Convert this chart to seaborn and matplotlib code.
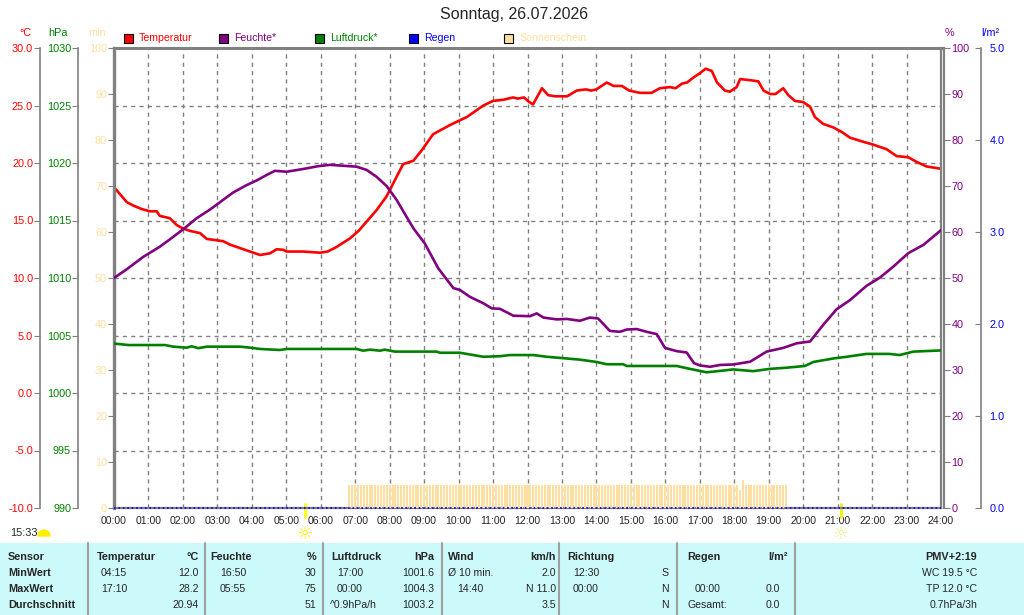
import numpy as np
import matplotlib
matplotlib.use("Agg")
import matplotlib.pyplot as plt
from matplotlib.patches import Rectangle, Wedge
from matplotlib.transforms import IdentityTransform, blended_transform_factory
import seaborn as sns

# ---- data (hours since midnight) ----
temp_hours = [0.0, 0.37, 0.56, 0.8, 1.04, 1.24, 1.33, 1.62, 1.82, 2.01, 2.2, 2.5, 2.69,
              3.17, 3.37, 3.85, 4.24, 4.53, 4.72, 4.91, 5.01, 5.49, 5.98, 6.2, 6.46,
              6.85, 7.1, 7.33, 7.62, 7.91, 8.15, 8.39, 8.69, 8.93, 9.26, 9.75, 10.24,
              10.72, 11.0, 11.3, 11.58, 11.72, 11.9, 12.05, 12.16, 12.42, 12.6, 12.8,
              13.15, 13.43, 13.7, 13.85, 14.0, 14.3, 14.5, 14.74, 14.95, 15.26, 15.6,
              15.84, 16.13, 16.3, 16.48, 16.63, 16.8, 17.0, 17.17, 17.35, 17.5, 17.73,
              17.87, 18.07, 18.17, 18.46, 18.7, 18.85, 19.04, 19.2, 19.42, 19.57, 19.76,
              20.0, 20.2, 20.34, 20.58, 20.87, 21.12, 21.36, 21.74, 22.03, 22.42, 22.71,
              23.05, 23.29, 23.58, 24.0]
temp_values = [17.9, 16.6, 16.3, 16.0, 15.8, 15.8, 15.4, 15.2, 14.6, 14.3, 14.1, 13.9, 13.4,
               13.2, 12.9, 12.4, 12.0, 12.15, 12.5, 12.45, 12.3, 12.3, 12.2, 12.3, 12.7,
               13.45, 14.1, 14.9, 15.9, 17.1, 18.5, 19.9, 20.2, 21.1, 22.5, 23.3, 24.0,
               25.0, 25.4, 25.5, 25.7, 25.6, 25.7, 25.3, 25.1, 26.5, 25.9, 25.8,
               25.8, 26.3, 26.4, 26.3, 26.4, 27.0, 26.7, 26.7, 26.3, 26.1, 26.1,
               26.5, 26.6, 26.5, 26.9, 27.0, 27.4, 27.8, 28.2, 28.0, 27.0, 26.3,
               26.2, 26.6, 27.3, 27.2, 27.1, 26.3, 26.0, 26.0, 26.5, 25.9, 25.4,
               25.3, 24.9, 24.0, 23.4, 23.1, 22.7, 22.2, 21.85, 21.6, 21.2, 20.6,
               20.5, 20.1, 19.7, 19.5]

hum_hours = [0.0, 0.37, 0.85, 1.33, 1.62, 2.01, 2.4, 2.79, 3.17, 3.46, 3.85, 4.14, 4.43,
             4.67, 5.01, 5.49, 5.92, 6.27, 7.04, 7.33, 7.62, 7.91, 8.2, 8.49, 8.69, 9.02,
             9.41, 9.85, 10.04, 10.33, 10.72, 10.96, 11.2, 11.59, 12.07, 12.27, 12.46,
             12.85, 13.14, 13.52, 13.81, 14.05, 14.39, 14.68, 14.88, 15.17, 15.46, 15.75,
             15.99, 16.33, 16.62, 16.83, 17.0, 17.3, 17.59, 17.97, 18.46, 18.94, 19.42,
             19.81, 20.2, 20.58, 20.97, 21.36, 21.84, 22.23, 22.62, 23.05, 23.49, 24.0]
hum_values = [50.0, 51.9, 54.6, 56.8, 58.4, 60.6, 63.0, 64.9, 67.0, 68.6, 70.2, 71.2, 72.4,
              73.3, 73.1, 73.7, 74.3, 74.6, 74.2, 73.5, 72.0, 70.0, 67.0, 63.3, 60.8, 57.5,
              52.1, 47.8, 47.4, 45.9, 44.5, 43.4, 43.3, 41.8, 41.7, 42.3, 41.4,
              41.0, 41.1, 40.7, 41.4, 41.2, 38.5, 38.3, 38.8, 38.9, 38.3, 37.8,
              34.8, 34.1, 33.8, 31.5, 31.0, 30.7, 31.1, 31.2, 31.8, 34.0, 34.8,
              35.8, 36.2, 39.8, 43.2, 45.2, 48.3, 50.1, 52.5, 55.4, 57.2, 60.4]

press_hours = [0.0, 0.42, 1.48, 1.72, 2.11, 2.25, 2.45, 2.69, 3.66, 3.95, 4.24, 4.82, 5.01,
               7.04, 7.23, 7.43, 7.72, 7.86, 8.15, 9.36, 9.46, 10.04, 10.33, 10.72, 11.2,
               11.49, 12.17, 12.56, 13.14, 13.52, 14.0, 14.3, 14.78, 14.88, 16.33, 16.71,
               17.2, 17.68, 17.97, 18.55, 19.04, 19.52, 20.05, 20.3, 20.87, 21.26, 21.84,
               22.5, 22.8, 23.2, 24.0]
press_values = [1004.3, 1004.17, 1004.17, 1004.03, 1003.94, 1004.06, 1003.9, 1004.03,
                1004.03, 1003.94, 1003.83, 1003.74, 1003.83, 1003.83, 1003.68, 1003.77,
                1003.68, 1003.77, 1003.6, 1003.6, 1003.5, 1003.5, 1003.35, 1003.15, 1003.2,
                1003.3, 1003.3, 1003.15, 1003.0, 1002.9, 1002.7, 1002.5, 1002.5, 1002.35,
                1002.35, 1002.1, 1001.8, 1001.95, 1002.05, 1001.9, 1002.1, 1002.2, 1002.35,
                1002.7, 1003.0, 1003.15, 1003.4, 1003.4, 1003.3, 1003.6, 1003.7]

rain_hours = [0.0, 24.0]
rain_values = [0.0, 0.0]

# sunshine minutes per 5-minute slot, first slot 06:50
sun_first_slot = 6 + 50 / 60
sun_minutes = [5, 5,
               5, 5, 5, 5, 5, 5, 5, 5, 5, 5, 5, 5,   # 07
               5, 5, 5, 5, 5, 5, 5, 5, 5, 5, 5, 5,   # 08
               5, 5, 5, 5, 5, 5, 5, 5, 5, 5, 5, 5,   # 09
               5, 5, 5, 5, 5, 5, 5, 5, 5, 5, 5, 5,   # 10
               5, 5, 5, 5, 5, 5, 5, 5, 5, 5, 5, 5,   # 11
               5, 5, 5, 5, 5, 5, 5, 5, 5, 5, 5, 5,   # 12
               5, 5, 5, 5, 5, 5, 5, 5, 5, 5, 5, 5,   # 13
               5, 5, 5, 5, 5, 5, 5, 5, 5, 5, 5, 5,   # 14
               5, 5, 5, 5, 5, 5, 5, 5, 5, 5, 5, 5,   # 15
               5, 5, 5, 5, 5, 5, 5, 5, 5, 5, 5, 5,   # 16
               5, 5, 5, 5, 5, 5, 5, 5, 5, 5, 5, 5,   # 17
               5, 5, 4, 6, 5, 5, 5, 5, 5, 5, 5, 5,   # 18
               5, 5, 5, 5, 5, 5, 5]                  # 19
sun_hours = sun_first_slot + np.arange(len(sun_minutes)) * 5 / 60

sunrise_h, sunset_h = 5 + 33 / 60, 21 + 6 / 60
hour_labels = [f"{h:02d}:00" for h in range(25)]

C_TEMP, C_HUM, C_PRESS, C_RAIN, C_SUN = "#FF0000", "#800080", "#008000", "#0000FF", "#FFDF9F"
GRAY = "#808080"
W, H = 1024, 615
PT = 0.72  # points per pixel at 100 dpi

sns.set_style("white")
plt.rcParams["font.family"] = ["Liberation Sans", "DejaVu Sans"]


def fx(x):
    return x / W


def fy(y):
    return 1 - y / H


def hide_spines(ax):
    for s in ax.spines.values():
        s.set_visible(False)


fig = plt.figure(figsize=(10.24, 6.15), dpi=100)
ax_t = fig.add_axes([fx(114), fy(508), (941 - 114) / W, 460 / H])
ax_min = ax_t.twinx()
ax_p = ax_t.twinx()
ax_h = ax_t.twinx()
ax_r = ax_t.twinx()

# temperature (main axes, carries the grid and time axis)
sns.lineplot(x=temp_hours, y=temp_values, ax=ax_t, color=C_TEMP, linewidth=1.9)
ax_t.set_ylim(-10, 30)
ax_t.set_yticks(np.arange(-10, 31, 5))
ax_t.set_yticklabels([f"{v:.1f}" for v in np.arange(-10, 31, 5)])
ax_t.set_xlim(0, 24)
ax_t.set_xticks(range(25))
ax_t.set_xticklabels(hour_labels)
ax_t.grid(True, color=GRAY, linestyle=(0, (3, 3)), linewidth=1)
ax_t.set_axisbelow(True)
for side in ["top", "right", "bottom"]:
    ax_t.spines[side].set_color(GRAY)
ax_t.spines["top"].set_linewidth(2.2)
ax_t.spines["right"].set_linewidth(1.6)
ax_t.spines["bottom"].set_linewidth(1.6)
ax_t.spines["left"].set_position(("outward", 74 * PT))
ax_t.spines["left"].set_color(GRAY)
ax_t.spines["left"].set_linewidth(1.2)
ax_t.tick_params(axis="y", labelcolor=C_TEMP, color=GRAY, length=4, pad=1, labelsize=7.8)
ax_t.tick_params(axis="x", color=GRAY, length=3, pad=3, labelsize=7.6)

# sunshine minutes
hide_spines(ax_min)
sns.barplot(x=sun_hours, y=sun_minutes, ax=ax_min, native_scale=True, color=C_SUN,
            saturation=1, width=0.7, errorbar=None, linewidth=0)
ax_min.spines["left"].set_visible(True)
ax_min.spines["left"].set_color(GRAY)
ax_min.spines["left"].set_linewidth(2.4)
ax_min.yaxis.tick_left()
ax_min.set_ylim(0, 100)
ax_min.set_yticks(range(0, 101, 10))
ax_min.tick_params(axis="y", labelcolor=C_SUN, color=GRAY, length=4, pad=1, labelsize=7.8)

# pressure
hide_spines(ax_p)
sns.lineplot(x=press_hours, y=press_values, ax=ax_p, color=C_PRESS, linewidth=1.9)
ax_p.spines["left"].set_visible(True)
ax_p.spines["left"].set_position(("outward", 36 * PT))
ax_p.spines["left"].set_color(GRAY)
ax_p.spines["left"].set_linewidth(1.2)
ax_p.yaxis.tick_left()
ax_p.set_ylim(990, 1030)
ax_p.set_yticks(range(990, 1031, 5))
ax_p.tick_params(axis="y", labelcolor=C_PRESS, color=GRAY, length=4, pad=1, labelsize=7.8)

# humidity
hide_spines(ax_h)
sns.lineplot(x=hum_hours, y=hum_values, ax=ax_h, color=C_HUM, linewidth=1.9)
ax_h.spines["right"].set_visible(True)
ax_h.spines["right"].set_position(("outward", 3 * PT))
ax_h.spines["right"].set_color(GRAY)
ax_h.spines["right"].set_linewidth(1.6)
ax_h.set_ylim(0, 100)
ax_h.set_yticks(range(0, 101, 10))
ax_h.tick_params(axis="y", labelcolor=C_HUM, color=GRAY, length=4, pad=1.5, labelsize=7.8)

# rain
hide_spines(ax_r)
sns.lineplot(x=rain_hours, y=rain_values, ax=ax_r, color=C_RAIN, linewidth=1.2,
             linestyle=":", clip_on=False)
ax_r.spines["right"].set_visible(True)
ax_r.spines["right"].set_position(("outward", 40 * PT))
ax_r.spines["right"].set_color(GRAY)
ax_r.spines["right"].set_linewidth(1.2)
ax_r.set_ylim(0, 5)
ax_r.set_yticks(range(0, 6))
ax_r.set_yticklabels([f"{v:.1f}" for v in range(0, 6)])
ax_r.tick_params(axis="y", direction="in", labelcolor=C_RAIN, color=GRAY, length=4,
                 pad=6, labelsize=7.8)

for a in [ax_t, ax_min, ax_p, ax_h, ax_r]:
    a.set_xlabel("")
    a.set_ylabel("")
ax_t.set_xlim(0, 24)

# sunrise / sunset marks on the time axis
trans = blended_transform_factory(ax_t.transData, ax_t.transAxes)
for h, c in [(sunrise_h, "#FFFF00"), (sunset_h, "#F4F000")]:
    ax_t.plot([h, h], [0.009, -0.02], transform=trans, color=c, linewidth=2, clip_on=False)
fig.text(fx(305), fy(534), "\u263c", color="#FFEE00", fontsize=13, ha="center", va="center",
         family="DejaVu Sans", fontweight="bold")
fig.text(fx(841), fy(534), "\u263c", color="#EEEC90", fontsize=13, ha="center", va="center",
         family="DejaVu Sans")
fig.text(fx(10), fy(533), "15:33", fontsize=7.8, ha="left", va="center")
fig.patches.append(Wedge((44, H - 536), 6, 0, 180, color="#FFEE00", transform=IdentityTransform()))

# title, units and legend
fig.text(fx(514), fy(15), "Sonntag, 26.07.2026", fontsize=11.5, ha="center", va="center")
for x, txt, c in [(25, "°C", C_TEMP), (58, "hPa", C_PRESS), (97, "min", C_SUN),
                  (949, "%", C_HUM), (990, "l/m²", C_RAIN)]:
    fig.text(fx(x), fy(33), txt, color=c, fontsize=7.8, ha="center", va="center")
for x, txt, c in [(124, "Temperatur", C_TEMP), (219, "Feuchte*", C_HUM),
                  (315, "Luftdruck*", C_PRESS), (409, "Regen", C_RAIN),
                  (504, "Sonnenschein", C_SUN)]:
    fig.patches.append(Rectangle((fx(x), fy(43)), 9 / W, 9 / H, transform=fig.transFigure,
                                 facecolor=c, edgecolor="black", linewidth=0.8))
    fig.text(fx(x + 15), fy(38), txt, color=c, fontsize=7.6, ha="left", va="center")

# statistics table at the bottom
fig.patches.append(Rectangle((0, 0), 1, (H - 543) / H, transform=fig.transFigure,
                             facecolor="#CCF9F9", edgecolor="none", zorder=0))
for x in [88, 205, 323, 442, 559, 677, 795]:
    fig.add_artist(plt.Line2D([fx(x), fx(x)], [fy(543), 0], transform=fig.transFigure,
                              color="#A0A0A0", linewidth=1.5))

row_y = [557, 573, 589, 605]
bold_cells = [
    (8, 0, "Sensor", "left"), (8, 1, "MinWert", "left"), (8, 2, "MaxWert", "left"),
    (8, 3, "Durchschnitt", "left"),
    (97, 0, "Temperatur", "left"), (199, 0, "°C", "right"),
    (210, 0, "Feuchte", "left"), (316, 0, "%", "right"),
    (331, 0, "Luftdruck", "left"), (434, 0, "hPa", "right"),
    (448, 0, "Wind", "left"), (556, 0, "km/h", "right"),
    (567, 0, "Richtung", "left"),
    (687, 0, "Regen", "left"), (788, 0, "l/m²", "right"),
    (977, 0, "PMV+2:19", "right"),
]
plain_cells = [
    (101, 1, "04:15", "left"), (199, 1, "12.0", "right"),
    (101, 2, "17:10", "left"), (199, 2, "28.2", "right"),
    (199, 3, "20.94", "right"),
    (220, 1, "16:50", "left"), (316, 1, "30", "right"),
    (220, 2, "05:55", "left"), (316, 2, "75", "right"),
    (316, 3, "51", "right"),
    (337, 1, "17:00", "left"), (434, 1, "1001.6", "right"),
    (337, 2, "00:00", "left"), (434, 2, "1004.3", "right"),
    (330, 3, "^0.9hPa/h", "left"), (434, 3, "1003.2", "right"),
    (448, 1, "Ø 10 min.", "left"), (556, 1, "2.0", "right"),
    (457, 2, "14:40", "left"), (556, 2, "N 11.0", "right"),
    (556, 3, "3.5", "right"),
    (573, 1, "12:30", "left"), (669, 1, "S", "right"),
    (573, 2, "00:00", "left"), (669, 2, "N", "right"),
    (669, 3, "N", "right"),
    (695, 2, "00:00", "left"), (780, 2, "0.0", "right"),
    (688, 3, "Gesamt:", "left"), (780, 3, "0.0", "right"),
    (977, 1, "WC 19.5 °C", "right"), (977, 2, "TP 12.0 °C", "right"),
    (977, 3, "0.7hPa/3h", "right"),
]
for x, r, txt, ha in bold_cells:
    fig.text(fx(x), fy(row_y[r]), txt, fontsize=7.8, fontweight="bold", ha=ha, va="center")
for x, r, txt, ha in plain_cells:
    fig.text(fx(x), fy(row_y[r]), txt, fontsize=7.6, ha=ha, va="center")

fig.savefig("out.png", dpi=100)
